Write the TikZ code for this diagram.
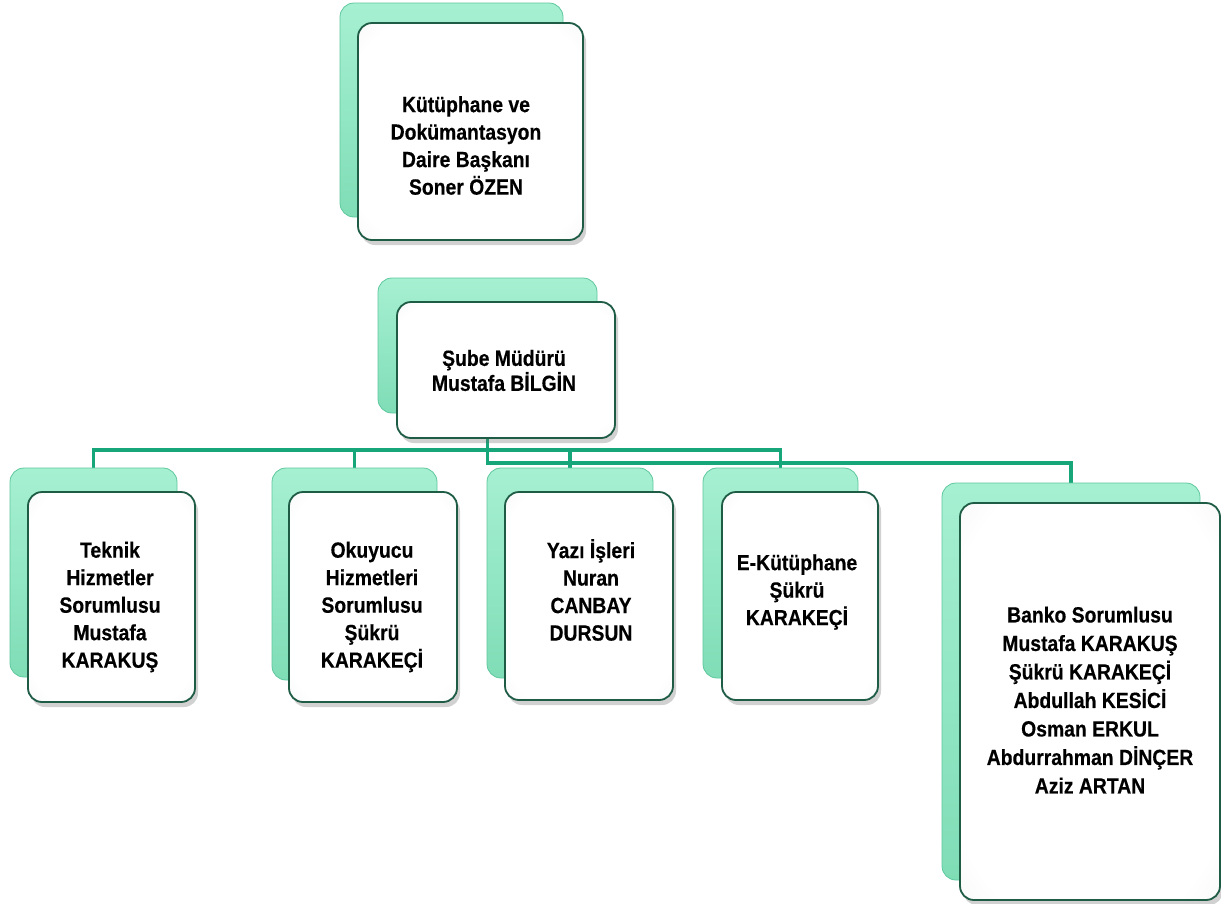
\documentclass[tikz,border=0pt]{standalone}
\usepackage{fontspec}
\newfontfamily\boxfont[FakeStretch=0.88, BoldFeatures={FakeBold=0.4}]{Liberation Sans}
\usetikzlibrary{shadows,backgrounds}

\definecolor{connG}{HTML}{17A57A}
\definecolor{mintA}{HTML}{A6F0D2}
\definecolor{mintB}{HTML}{7FDDB6}
\definecolor{mintD}{HTML}{5EC79E}
\definecolor{frameG}{HTML}{1E5C45}
\definecolor{paleG}{HTML}{DDE0DF}

\pgfdeclareradialshading{frontshade}{\pgfpoint{0bp}{0bp}}{%
  color(0bp)=(white); color(30bp)=(white); color(42bp)=(white!55!paleG); color(50bp)=(paleG); color(75bp)=(paleG)}

\tikzset{
  backbox/.style={rounded corners=14pt, draw=mintD, line width=0.8pt,
    top color=mintA, bottom color=mintB, inner sep=0pt},
  frontbox/.style={rounded corners=14pt, draw=frameG, line width=1.8pt,
    shading=frontshade, inner sep=0pt,
    drop shadow={shadow xshift=3pt, shadow yshift=-5pt, opacity=0.3, fill=black!60}},
  boxtext/.style={align=center, inner sep=0pt, text=black,
    font=\boxfont\bfseries\fontsize{22}{27.5}\selectfont},
  connector/.style={draw=connG, line width=3.5pt},
}

\begin{document}
\begin{tikzpicture}[x=1pt,y=-1pt]
\useasboundingbox (0,0) rectangle (1221,903);

% top box
\node[backbox, minimum width=223pt, minimum height=214pt] (b0bk) at (451.5,110) {};
\node[frontbox, minimum width=225pt, minimum height=217pt] (b0fr) at (470.5,131.5) {};
\node[boxtext] (b0tx) at (466,145.5) {Kütüphane ve\\Dokümantasyon\\Daire Başkanı\\Soner ÖZEN};

% Sube
\node[backbox, minimum width=219pt, minimum height=135pt] (sbk) at (487.5,345.5) {};
\node[frontbox, minimum width=218pt, minimum height=136pt] (sfr) at (506,370) {};
\node[boxtext, font=\boxfont\bfseries\fontsize{22}{25}\selectfont] (stx) at (504,370.5) {Şube Müdürü\\Mustafa BİLGİN};

% Teknik
\node[backbox, minimum width=167pt, minimum height=209pt] (b1bk) at (93.5,572.5) {};
\node[frontbox, minimum width=167pt, minimum height=210pt] (b1fr) at (111.5,597) {};
\node[boxtext] (b1tx) at (110,607) {Teknik\\Hizmetler\\Sorumlusu\\Mustafa\\KARAKUŞ};

% Okuyucu
\node[backbox, minimum width=165pt, minimum height=212pt] (b2bk) at (354.5,574) {};
\node[frontbox, minimum width=168pt, minimum height=210pt] (b2fr) at (373,597) {};
\node[boxtext] (b2tx) at (372,607) {Okuyucu\\Hizmetleri\\Sorumlusu\\Şükrü\\KARAKEÇİ};

% Yazi
\node[backbox, minimum width=166pt, minimum height=210pt] (b3bk) at (570,573) {};
\node[frontbox, minimum width=168pt, minimum height=208pt] (b3fr) at (589,596) {};
\node[boxtext] (b3tx) at (591,590) {Yazı İşleri\\Nuran\\CANBAY\\DURSUN};

% E-Kutuphane
\node[backbox, minimum width=155pt, minimum height=210pt] (b4bk) at (780.5,573) {};
\node[frontbox, minimum width=156pt, minimum height=208pt] (b4fr) at (800,596) {};
\node[boxtext] (b4tx) at (797,592) {E-Kütüphane\\Şükrü\\KARAKEÇİ};

% Banko
\node[backbox, minimum width=258pt, minimum height=397pt] (b5bk) at (1071,681.5) {};
\node[frontbox, minimum width=260pt, minimum height=397pt] (b5fr) at (1090,701.5) {};
\node[boxtext, font=\boxfont\bfseries\fontsize{22}{28.5}\selectfont] (b5tx) at (1090,700) {Banko Sorumlusu\\Mustafa KARAKUŞ\\Şükrü KARAKEÇİ\\Abdullah KESİCİ\\Osman ERKUL\\Abdurrahman DİNÇER\\Aziz ARTAN};

% connectors
\coordinate (busA) at (0,450);
\coordinate (busB) at (0,463);
\begin{scope}[on background layer]
\draw[connector] (b1bk.north) -- (b1bk.north |- busA) -- (b4bk.north |- busA) -- (b4bk.north);
\draw[connector] (b2bk.north |- busA) -- (b2bk.north);
\draw[connector] (b3bk.north |- busA) -- (b3bk.north);
\draw[connector] (sbk.center) -- (sbk.center |- busB) -- (b5bk.north |- busB) -- (b5bk.north);
\end{scope}
\end{tikzpicture}
\end{document}
